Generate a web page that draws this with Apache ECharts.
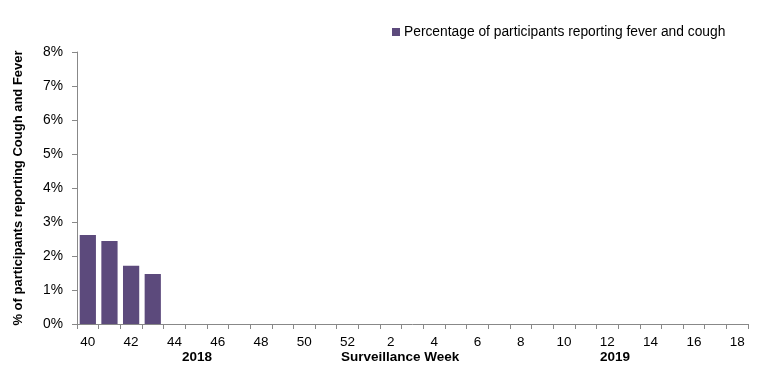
<!DOCTYPE html>
<html><head><meta charset="utf-8">
<script src="https://cdn.jsdelivr.net/npm/echarts@6/dist/echarts.min.js"></script>
<style>html,body{margin:0;padding:0;background:#fff}#c{width:773px;height:374px}</style>
</head><body><div id="c"></div>
<script>
var weeks = ['40','41','42','43','44','45','46','47','48','49','50','51','52','1','2','3','4','5','6','7','8','9','10','11','12','13','14','15','16','17','18'];
var feverCough = [2.62, 2.44, 1.71, 1.47, null, null, null, null, null, null, null, null, null, null, null, null, null, null, null, null, null, null, null, null, null, null, null, null, null, null, null];
var seriesName = 'Percentage of participants reporting fever and cough';
var yTicks = [0, 1, 2, 3, 4, 5, 6, 7, 8];

var chart = echarts.init(document.getElementById('c'));
var font = 'Liberation Sans, Arial, sans-serif';
chart.setOption({
  animation: false,
  textStyle: {fontFamily: font},
  legend: {
    data: [seriesName], left: 387, top: 20, itemWidth: 8, itemHeight: 8, itemGap: 4,
    icon: 'rect', textStyle: {fontSize: 13.8, color: '#000', fontFamily: font, padding: [0,0,0,-1]}
  },
  grid: {left: 77, right: 25, top: 52, bottom: 50, containLabel: false, outerBoundsMode: 'none'},
  xAxis: {
    type: 'category', data: weeks, boundaryGap: true,
    axisLine: {lineStyle: {color: '#888'}},
    axisTick: {show: true, interval: 0, length: 5, lineStyle: {color: '#888'}},
    axisLabel: {interval: 1, color: '#000', fontSize: 13.5, margin: 11, fontFamily: font}
  },
  yAxis: {
    type: 'value', min: yTicks[0], max: yTicks[yTicks.length-1], interval: 1,
    name: '% of participants reporting Cough and Fever', nameLocation: 'middle', nameGap: 52,
    nameTextStyle: {fontWeight: 'bold', fontSize: 13, color: '#000', fontFamily: font},
    axisLine: {show: true, lineStyle: {color: '#888'}},
    axisTick: {show: true, length: 5, lineStyle: {color: '#888'}},
    splitLine: {show: false},
    axisLabel: {formatter: '{value}%', color: '#000', fontSize: 13.8, margin: 14, fontFamily: font}
  },
  series: [{
    name: seriesName, type: 'bar', data: feverCough, barCategoryGap: '25%',
    itemStyle: {color: '#5C4A7C'}
  }],
  graphic: [
    {type: 'text', left: 182, top: 350, style: {text: '2018', font: 'bold 13.5px ' + font, fill: '#000'}},
    {type: 'text', left: 341, top: 350, style: {text: 'Surveillance Week', font: 'bold 13.5px ' + font, fill: '#000'}},
    {type: 'text', left: 600, top: 350, style: {text: '2019', font: 'bold 13.5px ' + font, fill: '#000'}}
  ]
});
</script></body></html>
